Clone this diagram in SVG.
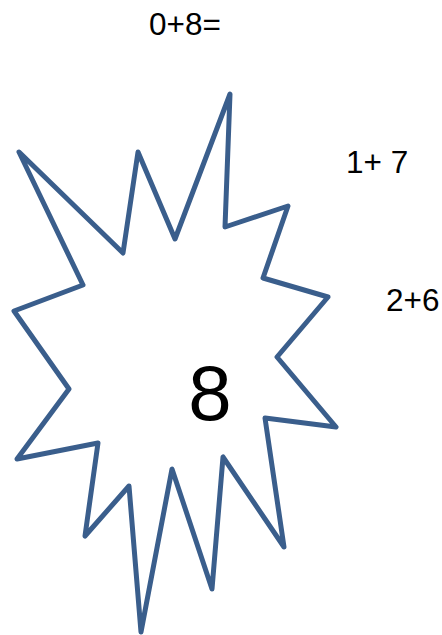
<svg xmlns="http://www.w3.org/2000/svg" width="442" height="635" viewBox="0 0 442 635">
<style>
.star{fill:#ffffff;stroke:#3a5e8c;stroke-width:5;stroke-linejoin:round}
.t{font-family:"Liberation Sans",Arial,sans-serif;fill:#000}
</style>
<rect width="442" height="635" fill="#ffffff"/>
<g id="star">
<polygon class="star" points="19,152 123,253 138,152 175,239 230,94 225,227 288,206 263,278 328,297 277,357 336,427 265,418 284,547 223,457 212,589 172,469 141,632 129,486 85,536 98,443 17,459 69,389 14,311 83,285"/>
<text class="t" x="210" y="420" font-size="78" text-anchor="middle">8</text>
</g>
<g id="label1"><text class="t" x="149" y="35" font-size="31.5">0+8=</text></g>
<g id="label2"><text class="t" x="346" y="173" font-size="31.5">1+ 7</text></g>
<g id="label3"><text class="t" x="386" y="311" font-size="31.5">2+6</text></g>
</svg>
